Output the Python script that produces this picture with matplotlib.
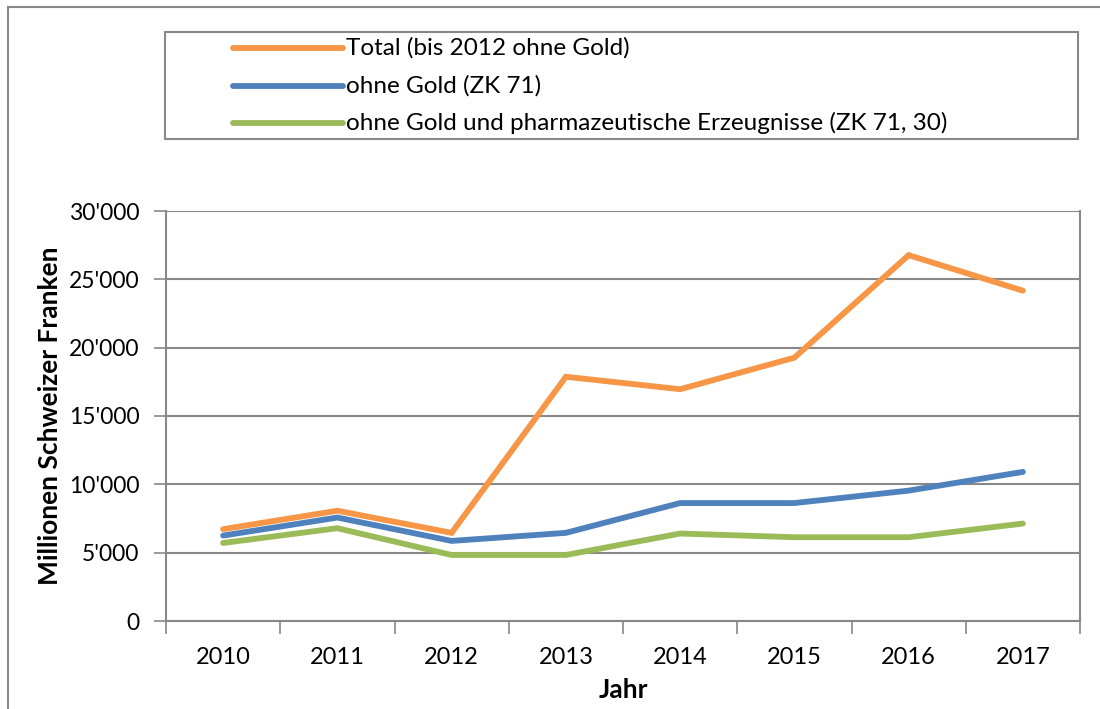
import matplotlib.pyplot as plt
from matplotlib.lines import Line2D
from matplotlib.patches import Rectangle
from matplotlib.ticker import FuncFormatter

plt.rcParams['font.family'] = ['Lato', 'DejaVu Sans']

years = ["2010", "2011", "2012", "2013", "2014", "2015", "2016", "2017"]
total = [6720, 8070, 6450, 17870, 16960, 19270, 26770, 24170]
ohne_gold = [6250, 7570, 5860, 6450, 8630, 8630, 9540, 10910]
ohne_gold_pharma = [5710, 6790, 4830, 4830, 6400, 6130, 6130, 7130]

labels = [
    "Total (bis 2012 ohne Gold)",
    "ohne Gold (ZK 71)",
    "ohne Gold und pharmazeutische Erzeugnisse (ZK 71, 30)",
]
colors = ["#f79646", "#4f81bd", "#9bbb59"]

W, H = 1100, 709
fig = plt.figure(figsize=(11, 7.09), dpi=100)
ax = fig.add_axes([166 / W, 1 - 621 / H, (1080 - 166) / W, (621 - 211) / H])

x = list(range(len(years)))
for vals, c, lab in zip([total, ohne_gold, ohne_gold_pharma], colors, labels):
    ax.plot(x, vals, color=c, lw=4.2, label=lab, solid_capstyle="round", solid_joinstyle="miter")

grey = "#888888"
ax.set_xlim(-0.5, len(years) - 0.5)
ax.set_ylim(0, 30000)
ax.set_yticks(range(0, 30001, 5000))
ax.yaxis.set_major_formatter(FuncFormatter(lambda v, p: f"{int(v):,}".replace(",", "'")))
ax.set_xticks([i - 0.5 for i in range(len(years) + 1)])
ax.set_xticklabels([])
ax.set_xticks(x, minor=True)
ax.set_xticklabels(years, minor=True)
ax.tick_params(axis="x", which="major", length=9, color=grey, width=1.2)
ax.tick_params(axis="x", which="minor", length=0, pad=19, labelsize=17)
ax.tick_params(axis="y", length=9, color=grey, width=1.2, labelsize=16.5, pad=10)
ax.grid(axis="y", color=grey, lw=1.5)
ax.set_axisbelow(True)
for s in ["left", "bottom", "right"]:
    ax.spines[s].set_color(grey)
    ax.spines[s].set_linewidth(1.5)
ax.spines["top"].set_visible(False)

ax.set_xlabel("Jahr", fontsize=19, fontweight="bold", labelpad=7)
ax.set_ylabel("Millionen Schweizer Franken", fontsize=19, fontweight="bold", labelpad=5)

# legend box
fig.patches.append(Rectangle((165 / W, 1 - 139 / H), (1078 - 165) / W, (139 - 32) / H,
                             transform=fig.transFigure, fill=False, ec=grey, lw=1.5))
ys = [48, 86, 123]
for y, c, lab in zip(ys, colors, labels):
    fig.add_artist(Line2D([233 / W, 343 / W], [1 - y / H] * 2, color=c, lw=4.2,
                          solid_capstyle="round", transform=fig.transFigure))
    fig.text(346 / W, 1 - y / H, lab, fontsize=17.5, va="center", ha="left")

# outer chart frame
fig.add_artist(Line2D([8 / W, 8 / W], [0, 1 - 7 / H], color=grey, lw=1.5, transform=fig.transFigure))
fig.add_artist(Line2D([8 / W, 1], [1 - 7 / H, 1 - 7 / H], color=grey, lw=1.5, transform=fig.transFigure))

fig.savefig("out.png", dpi=100)
